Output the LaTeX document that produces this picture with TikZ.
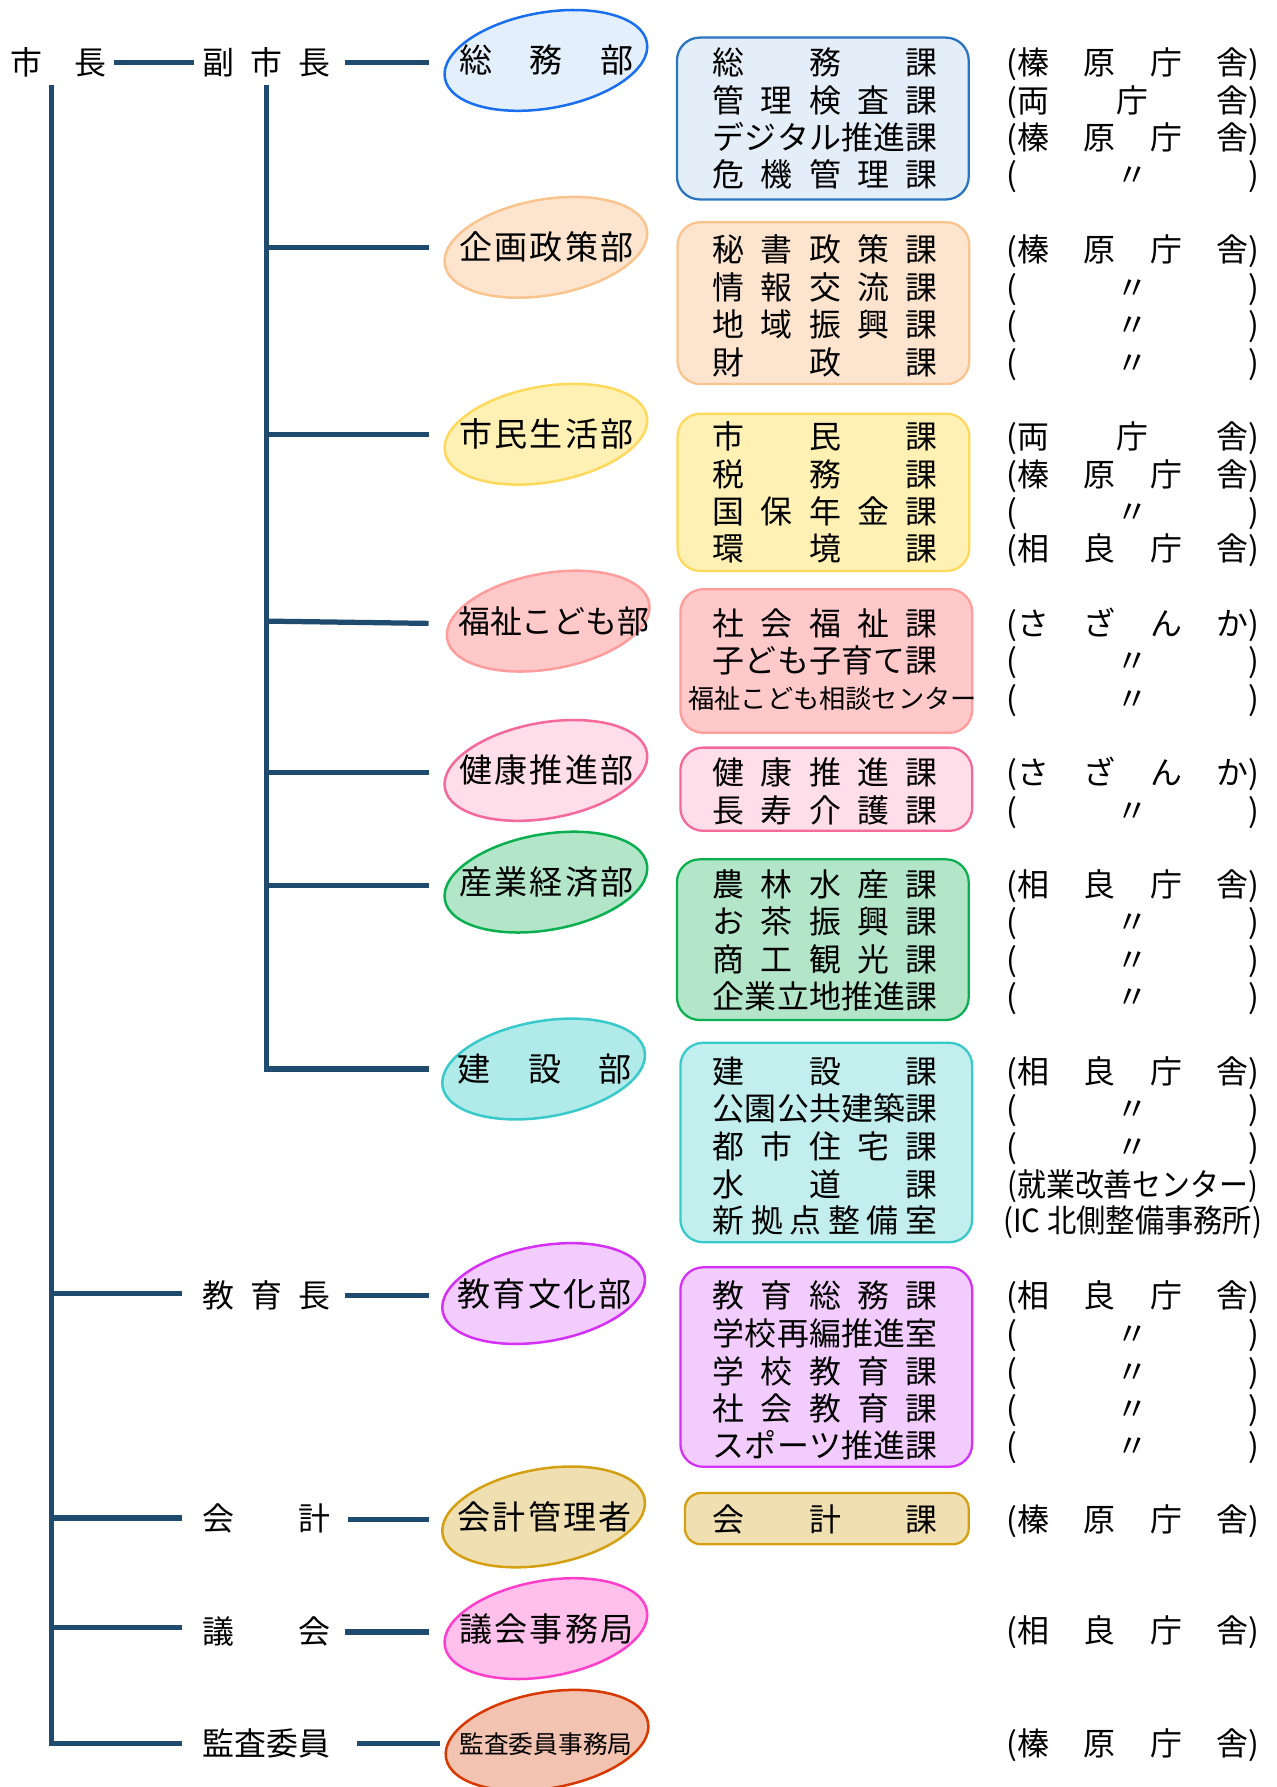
\documentclass[tikz,border=0pt]{standalone}
\usepackage{fontspec}
\setmainfont{Noto Sans CJK JP}
\usepackage{graphicx}
\usetikzlibrary{shapes.geometric}

\definecolor{lineC}{HTML}{1F4B6E}
\definecolor{eA}{HTML}{E4EFFC}\definecolor{eAd}{HTML}{1A6EF0}
\definecolor{bA}{HTML}{E3EEF8}\definecolor{bAd}{HTML}{2A74C0}
\definecolor{fB}{HTML}{FDE4CE}\definecolor{dB}{HTML}{FAC48F}
\definecolor{fC}{HTML}{FFF0B4}\definecolor{dC}{HTML}{FFD95C}
\definecolor{fD}{HTML}{FFC9C9}\definecolor{dD}{HTML}{FF9C9C}
\definecolor{fE}{HTML}{FFDEEA}\definecolor{dE}{HTML}{F5699A}
\definecolor{fF}{HTML}{B3E6C9}\definecolor{dF}{HTML}{0AB04F}
\definecolor{eG}{HTML}{B0EBEA}\definecolor{bG}{HTML}{C2EEEE}\definecolor{dG}{HTML}{38CACA}
\definecolor{fH}{HTML}{F2CCFD}\definecolor{dH}{HTML}{D530F5}
\definecolor{fI}{HTML}{EFDFB1}\definecolor{dI}{HTML}{D4A012}
\definecolor{fJ}{HTML}{FFC0EC}\definecolor{dJ}{HTML}{FF3FCB}
\definecolor{fK}{HTML}{F2C3B0}\definecolor{dK}{HTML}{D93800}

\makeatletter
\def\Spread#1{\Spread@first#1\relax}
\def\Spread@first#1{#1\Spread@rest}
\def\Spread@rest#1{\ifx\relax#1\else\hfill#1\expandafter\Spread@rest\fi}
\makeatother

\newcommand{\LocHai}{(榛\hfill 原\hfill 庁\hfill 舎)}
\newcommand{\LocSag}{(相\hfill 良\hfill 庁\hfill 舎)}
\newcommand{\LocRyo}{(両\hfill 庁\hfill 舎)}
\newcommand{\LocSaz}{(さ\hfill ざ\hfill ん\hfill か)}
\newcommand{\LocDit}{(\hfill 〃\hfill )}

\newcommand{\SecL}[3]{\node[txt] (#1) at (724,#2+10.5) {\makebox[197pt]{\Spread{#3}}};}
\newcommand{\LocL}[3]{\node[txt] (#1) at (994,#2+10.5) {\makebox[222pt]{#3}};}
\newcommand{\DepL}[4]{\node[txt,font=\fontsize{29}{33}\selectfont] (#1) at (#2,#3+11) {\makebox[153pt]{\Spread{#4}}};}

\begin{document}
\begin{tikzpicture}[x=1pt,y=-1pt,
  conn/.style={draw=lineC,line width=4.6pt},
  dept/.style={ellipse,line width=2.2pt,minimum width=180pt,minimum height=84pt,rotate=10,inner sep=0pt},
  secbox/.style={rounded corners=20pt,line width=2pt,minimum width=256pt,inner sep=0pt},
  txt/.style={anchor=base,inner sep=0pt,font=\fontsize{28}{33}\selectfont},
]
\useasboundingbox (0,0) rectangle (1120,1568);

% ---------- ellipses (departments) ----------
\node[dept,fill=eA,draw=eAd] (e1) at (479,53) {};
\node[dept,fill=fB,draw=dB] (e2) at (479,217) {};
\node[dept,fill=fC,draw=dC] (e3) at (479,381) {};
\node[dept,fill=fD,draw=dD] (e4) at (481,545) {};
\node[dept,fill=fE,draw=dE] (e5) at (479,676) {};
\node[dept,fill=fF,draw=dF] (e6) at (479,774) {};
\node[dept,fill=eG,draw=dG] (e7) at (477,938) {};
\node[dept,fill=fH,draw=dH] (e8) at (477,1135) {};
\node[dept,fill=fI,draw=dI] (e9) at (477,1331) {};
\node[dept,fill=fJ,draw=dJ] (e10) at (479,1429) {};
\node[dept,fill=fK,draw=dK] (e11) at (480,1527) {};

\DepL{t1}{479.5}{53}{総務部}
\DepL{t2}{479.5}{217}{企画政策部}
\DepL{t3}{479.5}{381}{市民生活部}
\node[txt] (t4) at (486,555.5) {\makebox[167pt]{\Spread{福祉こども部}}};
\DepL{t5}{479.5}{676}{健康推進部}
\DepL{t6}{479.5}{774}{産業経済部}
\DepL{t7}{478}{938}{建設部}
\DepL{t8}{478}{1135}{教育文化部}
\DepL{t9}{478}{1331}{会計管理者}
\DepL{t10}{479.5}{1429}{議会事務局}
\node[txt,font=\fontsize{21.7}{26}\selectfont] (t11) at (479,1538.5) {\makebox[152pt]{\Spread{監査委員事務局}}};

% ---------- section boxes ----------
\node[secbox,fill=bA,draw=bAd,minimum height=142pt] (b1) at (722,104) {};
\node[secbox,fill=fB,draw=dB,minimum height=142pt] (b2) at (722.5,266) {};
\node[secbox,fill=fC,draw=dC,minimum height=138pt] (b3) at (722.5,432) {};
\node[secbox,fill=fD,draw=dD,minimum height=126pt] (b4) at (725,580) {};
\node[secbox,fill=fE,draw=dE,minimum height=73pt] (b5) at (725,692.5) {};
\node[secbox,fill=fF,draw=dF,minimum height=141pt] (b6) at (722,824.5) {};
\node[secbox,fill=bG,draw=dG,minimum height=175pt] (b7) at (725,1002.5) {};
\node[secbox,fill=fH,draw=dH,minimum height=175pt] (b8) at (725,1199.5) {};
\node[secbox,fill=fI,draw=dI,minimum height=45pt,minimum width=249pt,rounded corners=14pt] (b9) at (725.5,1332.5) {};

% box 1
\SecL{s11}{55}{総務課}
\SecL{s12}{88}{管理検査課}
\SecL{s13}{121}{デジタル推進課}
\SecL{s14}{153}{危機管理課}
\LocL{l11}{55}{\LocHai}
\LocL{l12}{88}{\LocRyo}
\LocL{l13}{121}{\LocHai}
\LocL{l14}{153}{\LocDit}
% box 2
\SecL{s21}{219}{秘書政策課}
\SecL{s22}{252}{情報交流課}
\SecL{s23}{285}{地域振興課}
\SecL{s24}{318}{財政課}
\LocL{l21}{219}{\LocHai}
\LocL{l22}{252}{\LocDit}
\LocL{l23}{285}{\LocDit}
\LocL{l24}{318}{\LocDit}
% box 3
\SecL{s31}{383}{市民課}
\SecL{s32}{416}{税務課}
\SecL{s33}{449}{国保年金課}
\SecL{s34}{481}{環境課}
\LocL{l31}{383}{\LocRyo}
\LocL{l32}{416}{\LocHai}
\LocL{l33}{449}{\LocDit}
\LocL{l34}{481}{\LocSag}
% box 4
\SecL{s41}{547}{社会福祉課}
\SecL{s42}{580}{子ども子育て課}
\node[txt,font=\fontsize{23}{28}\selectfont] (s43) at (730.5,621.5) {福祉こども相談センター};
\LocL{l41}{547}{\LocSaz}
\LocL{l42}{580}{\LocDit}
\LocL{l43}{613}{\LocDit}
% box 5
\SecL{s51}{678}{健康推進課}
\SecL{s52}{711}{長寿介護課}
\LocL{l51}{678}{\LocSaz}
\LocL{l52}{711}{\LocDit}
% box 6
\SecL{s61}{776}{農林水産課}
\SecL{s62}{809}{お茶振興課}
\SecL{s63}{842}{商工観光課}
\SecL{s64}{874}{企業立地推進課}
\LocL{l61}{776}{\LocSag}
\LocL{l62}{809}{\LocDit}
\LocL{l63}{842}{\LocDit}
\LocL{l64}{874}{\LocDit}
% box 7
\SecL{s71}{940}{建設課}
\SecL{s72}{973}{公園公共建築課}
\SecL{s73}{1006}{都市住宅課}
\SecL{s74}{1039}{水道課}
\SecL{s75}{1071}{新拠点整備室}
\LocL{l71}{940}{\LocSag}
\LocL{l72}{973}{\LocDit}
\LocL{l73}{1006}{\LocDit}
\LocL{l74}{1039}{\resizebox{220pt}{\height}{(就業改善センター)}}
\node[txt] (l75) at (994,1081.5) {\resizebox{227pt}{\height}{(IC 北側整備事務所)}};
% box 8
\SecL{s81}{1137}{教育総務課}
\SecL{s82}{1170}{学校再編推進室}
\SecL{s83}{1203}{学校教育課}
\SecL{s84}{1236}{社会教育課}
\SecL{s85}{1268}{スポーツ推進課}
\LocL{l81}{1137}{\LocSag}
\LocL{l82}{1170}{\LocDit}
\LocL{l83}{1203}{\LocDit}
\LocL{l84}{1236}{\LocDit}
\LocL{l85}{1268}{\LocDit}
% box 9
\SecL{s91}{1333}{会計課}
\LocL{l91}{1333}{\LocHai}
% assembly / audit locations
\LocL{l101}{1431}{\LocSag}
\LocL{l111}{1530}{\LocHai}

% ---------- left labels ----------
\node[txt] (mayor) at (51,65.5) {\makebox[84pt]{市\hfill 長}};
\node[txt] (vice) at (234,65.5) {\makebox[112pt]{\Spread{副市長}}};
\node[txt] (edu) at (234,1147.5) {\makebox[112pt]{\Spread{教育長}}};
\node[txt] (acct) at (234,1342.5) {\makebox[112pt]{\Spread{会計}}};
\node[txt] (assem) at (234,1442.5) {\makebox[112pt]{\Spread{議会}}};
\node[txt] (audit) at (234,1540.5) {\makebox[112pt]{\Spread{監査委員}}};

% ---------- connectors ----------
\coordinate (mA) at (100,55);   \coordinate (mB) at (170,55);
\coordinate (vA) at (303,55);   \coordinate (vB) at (376,55);
\draw[conn] (mA) -- (mB);
\draw[conn] (vA) -- (vB);
% vice-mayor trunk
\coordinate (vt) at (234,75);
\coordinate (vb) at (234,938);
\coordinate (d7) at (376,938);
\draw[conn,line join=miter] (vt) -- (vb) -- (d7);
\coordinate (j2) at (234,217); \coordinate (d2) at (376,217);
\coordinate (j3) at (234,381); \coordinate (d3) at (376,381);
\coordinate (j4) at (234,545); \coordinate (d4) at (376,547);
\coordinate (j5) at (234,678); \coordinate (d5) at (376,678);
\coordinate (j6) at (234,777); \coordinate (d6) at (376,777);
\draw[conn] (j2) -- (d2);
\draw[conn] (j3) -- (d3);
\draw[conn] (j4) -- (d4);
\draw[conn] (j5) -- (d5);
\draw[conn] (j6) -- (d6);
% mayor trunk
\coordinate (mt) at (45,75);
\coordinate (mb) at (45,1530);
\coordinate (k4) at (160,1530);
\draw[conn,line join=miter] (mt) -- (mb) -- (k4);
\coordinate (i1) at (45,1135); \coordinate (k1) at (160,1135);
\coordinate (i2) at (45,1332); \coordinate (k2) at (160,1332);
\coordinate (i3) at (45,1428); \coordinate (k3) at (160,1428);
\draw[conn] (i1) -- (k1);
\draw[conn] (i2) -- (k2);
\draw[conn] (i3) -- (k3);
% label to department
\coordinate (p1) at (303,1137); \coordinate (q1) at (376,1137);
\coordinate (p2) at (305,1333); \coordinate (q2) at (376,1333);
\coordinate (p3) at (303,1432); \coordinate (q3) at (376,1432);
\coordinate (p4) at (313,1530); \coordinate (q4) at (386,1530);
\draw[conn] (p1) -- (q1);
\draw[conn] (p2) -- (q2);
\draw[conn] (p3) -- (q3);
\draw[conn] (p4) -- (q4);
\end{tikzpicture}
\end{document}
